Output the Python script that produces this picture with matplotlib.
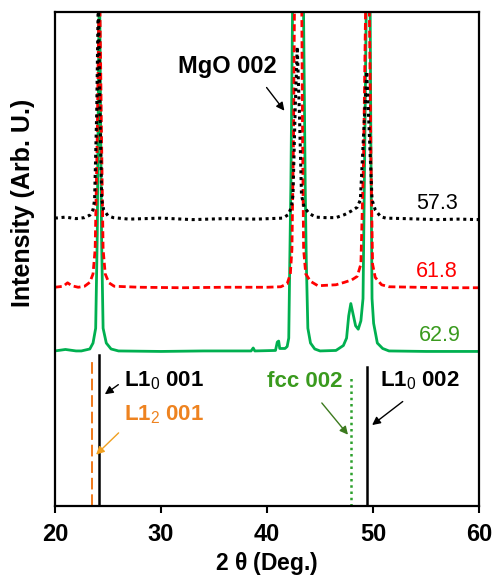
import numpy as np
import matplotlib
matplotlib.use('Agg')
import matplotlib.pyplot as plt

plt.rcParams['font.family'] = ['Liberation Sans', 'DejaVu Sans']
plt.rcParams['mathtext.fontset'] = 'custom'
plt.rcParams['mathtext.rm'] = 'Liberation Sans'
plt.rcParams['mathtext.bf'] = 'Liberation Sans:bold'

# XRD traces (2 theta, intensity in arb. units, offset)
x_573 = [20, 21, 22, 22.8, 23.3, 23.6, 23.75, 23.95, 24.1, 24.25, 24.42, 24.6, 25.0, 25.5,
         27, 30, 33, 36, 39, 41.5, 42.0, 42.3, 42.45, 42.65, 42.85, 43.05, 43.25, 43.5, 44.0, 44.6,
         45.5, 46.5, 47.3, 48.0, 48.5, 48.8, 49.1, 49.4, 49.65, 49.9, 50.2, 50.7, 51.2,
         53, 56, 58, 60]
y_573 = [58.3, 58.5, 58.2, 58.4, 58.9, 60.0, 62, 80, 104, 80, 62, 60, 58.8, 58.4,
         58.1, 58.3, 58.0, 58.2, 58.1, 58.3, 59.0, 60.5, 63, 80, 93, 80, 63, 60.5, 59.2, 58.5,
         58.4, 58.4, 59.0, 59.8, 60.5, 62, 75, 88, 75, 62, 60, 58.6, 58.3,
         58.2, 58.0, 58.1, 58.0]

x_618 = [20, 20.8, 21.2, 21.6, 22.2, 22.8, 23.3, 23.6, 23.8, 24.0, 24.2, 24.4, 24.55, 24.75, 25.1, 25.6,
         28, 32, 36, 40, 41.3, 41.9, 42.2, 42.35, 42.5, 42.62, 43.25, 43.35, 43.45, 43.65, 44.1, 44.8,
         45.6, 46.5, 47.3, 48.0, 48.5, 48.85, 49.1, 49.35, 49.6, 49.8, 49.95, 50.2, 50.8, 51.5,
         54, 57, 60]
y_618 = [44.3, 44.5, 45.2, 44.6, 44.3, 44.5, 45.3, 47, 52, 75, 110, 75, 52, 47, 45.2, 44.5,
         44.3, 44.2, 44.3, 44.3, 44.4, 45.0, 47, 52, 75, 110, 110, 75, 52, 47, 45.5, 44.6,
         44.7, 44.8, 45.3, 45.8, 46.5, 49, 70, 110, 110, 70, 49, 46.3, 44.8, 44.4,
         44.3, 44.2, 44.2]

x_629 = [20, 21, 22, 22.5, 23.3, 23.6, 23.85, 24.0, 24.2, 24.4, 24.55, 24.85, 25.3, 26,
         30, 34, 38.5, 38.7, 38.85, 40.8, 40.97, 41.1, 41.2, 41.7, 41.9, 42.05, 42.15, 42.25, 42.45,
         43.4, 43.6, 43.7, 43.85, 44.1, 44.5, 45, 46.5, 47.2, 47.5, 47.7, 47.9, 48.1, 48.35, 48.6,
         48.85, 49.05, 49.2, 49.4, 49.7, 49.8, 49.9, 50.05, 50.4, 50.9, 51.5, 55, 60]
y_629 = [31.4, 31.7, 31.4, 31.4, 31.8, 33, 36, 55, 110, 55, 36, 33, 31.8, 31.4,
         31.3, 31.4, 31.4, 32.0, 31.4, 31.5, 33.2, 33.4, 31.9, 31.9, 32.3, 34, 50, 65, 110,
         110, 65, 50, 36, 33, 31.8, 31.4, 31.5, 32.5, 34, 38.5, 41, 39, 36.5, 35.8,
         37.5, 42, 70, 110, 110, 70, 42, 37, 33, 31.9, 31.4, 31.3, 31.3]

# reference peak positions (2 theta) and stick heights
ref_pos = [24.15, 23.5, 47.9, 49.45]
ref_top = [30.6, 30.0, 26.5, 28.1]

fig = plt.figure(figsize=(4.94, 5.82), dpi=100)
ax = fig.add_axes([0.111, 0.1306, 0.859, 0.8484])

ax.plot(x_629, y_629, color='#00b050', lw=2.0, solid_joinstyle='round')
ax.plot(x_618, y_618, color='#ff0000', lw=2.0, ls=(0, (2.5, 1.3)))
ax.plot(x_573, y_573, color='black', lw=2.2, ls=(0, (1, 1.2)))

ax.plot([ref_pos[0]] * 2, [0, ref_top[0]], color='black', lw=1.8)
ax.plot([ref_pos[1]] * 2, [0, ref_top[1]], color='#f07818', lw=1.4, ls=(0, (6, 2.5)))
ax.plot([ref_pos[2]] * 2, [0, ref_top[2]], color='#2ca02c', lw=1.8, ls=(0, (1, 1.5)))
ax.plot([ref_pos[3]] * 2, [0, ref_top[3]], color='black', lw=1.8)

ax.set_xlim(20, 60)
ax.set_ylim(0, 100)
ax.set_yticks([])
ax.set_xticks([20, 30, 40, 50, 60])
ax.tick_params(axis='x', direction='out', length=5, width=1.5, labelsize=17, pad=7)
for lab in ax.get_xticklabels():
    lab.set_fontweight('bold')
for s in ax.spines.values():
    s.set_linewidth(1.6)

ax.set_xlabel(r'2 $\mathbf{\theta}$ (Deg.)', fontsize=16.5, fontweight='bold', labelpad=3)
ax.text(-0.075, 0.613, 'Intensity (Arb. U.)', transform=ax.transAxes, rotation=90,
        fontsize=18, fontweight='bold', ha='center', va='center')

# sample labels
ax.text(58.0, 61.3, '57.3', color='black', fontsize=15.5, ha='right', va='center')
ax.text(58.0, 47.4, '61.8', color='#ff0000', fontsize=15.5, ha='right', va='center')
ax.text(58.3, 34.6, '62.9', color='#3a9a1e', fontsize=15.5, ha='right', va='center')

arr = dict(arrowstyle='-|>', lw=1.0, mutation_scale=12)
ax.text(36.3, 89.1, 'MgO 002', fontsize=17, fontweight='bold', ha='center', va='center')
ax.annotate('', xy=(41.8, 79.6), xytext=(39.8, 85.2), arrowprops=dict(arr, color='black'))

ax.text(26.5, 25.3, r'L1$_{\mathrm{0}}$ 001', fontsize=16, fontweight='bold', color='black',
        ha='left', va='center')
ax.annotate('', xy=(24.5, 22.3), xytext=(26.2, 24.9), arrowprops=dict(arr, color='black'))

ax.text(26.5, 18.4, r'L1$_{\mathrm{2}}$ 001', fontsize=16, fontweight='bold', color='#ee8320',
        ha='left', va='center')
ax.annotate('', xy=(23.7, 10.0), xytext=(26.2, 15.2), arrowprops=dict(arr, color='#f0a020'))

ax.text(47.1, 25.2, 'fcc 002', fontsize=16, fontweight='bold', color='#3a9a1e',
        ha='right', va='center')
ax.annotate('', xy=(47.8, 14.0), xytext=(45.0, 21.3), arrowprops=dict(arr, color='#3c7a1e'))

ax.text(50.66, 25.3, r'L1$_{\mathrm{0}}$ 002', fontsize=16, fontweight='bold', color='black',
        ha='left', va='center')
ax.annotate('', xy=(49.7, 16.05), xytext=(53.0, 21.5), arrowprops=dict(arr, color='black'))

fig.savefig('out.png', dpi=100)
